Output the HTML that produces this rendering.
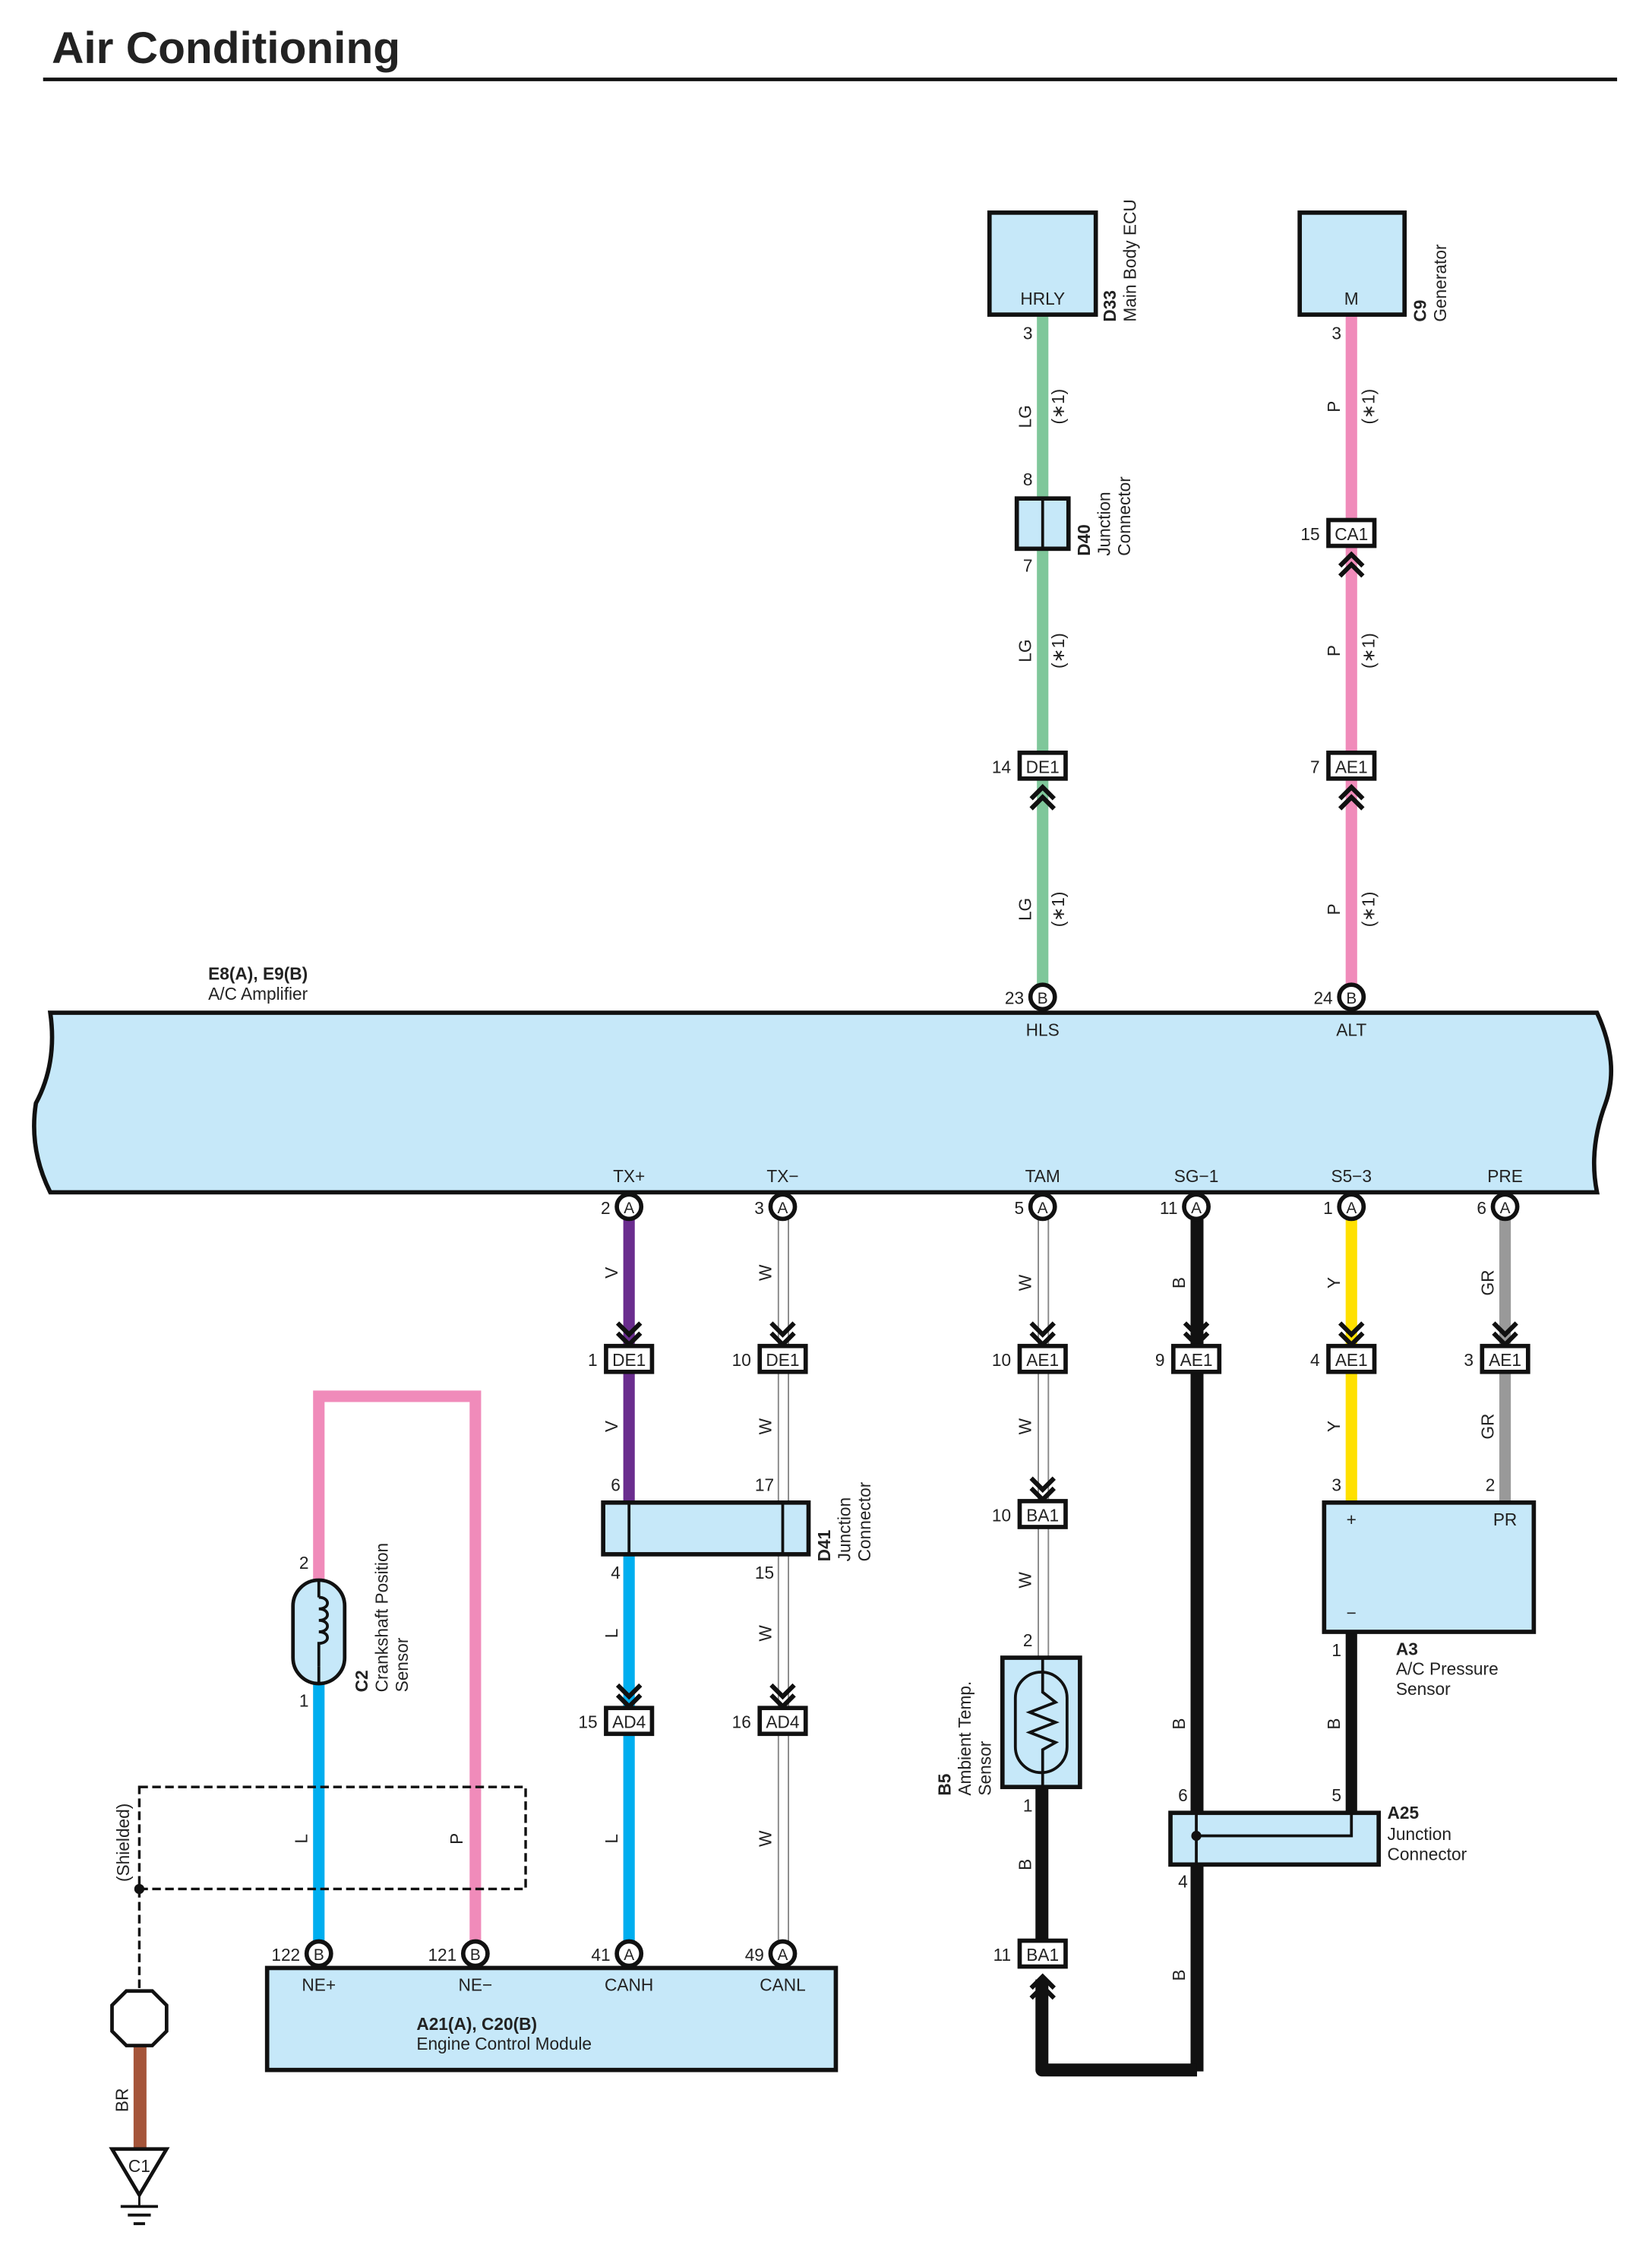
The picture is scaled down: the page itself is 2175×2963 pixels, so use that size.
<!DOCTYPE html>
<html><head><meta charset="utf-8"><style>
html,body{margin:0;padding:0;background:#fff}
svg{display:block}
text{font-family:"Liberation Sans",sans-serif;fill:#222}
.s{font-size:12px}
.b{font-weight:bold}
.m{text-anchor:middle}
.e{text-anchor:end}
</style></head><body>
<svg width="2175" height="2963" viewBox="0 0 1150.3 1567" xmlns="http://www.w3.org/2000/svg">
<defs>
<g id="cd"><polyline points="-8,-9 0,-1 8,-9" fill="none" stroke="#111" stroke-width="3.2"/><polyline points="-8,-2 0,6 8,-2" fill="none" stroke="#111" stroke-width="3.2"/></g>
<g id="cu"><polyline points="-8,9 0,1 8,9" fill="none" stroke="#111" stroke-width="3.2"/><polyline points="-8,2 0,-6 8,2" fill="none" stroke="#111" stroke-width="3.2"/></g>
</defs>
<text x="36" y="44" class="b" style="font-size:31px">Air Conditioning</text>
<rect x="30" y="54" width="1096" height="2.5" fill="#111"/>

<!-- top wires -->
<rect x="722" y="219" width="8" height="476" fill="#7fc79a"/>
<rect x="937" y="219" width="8" height="476" fill="#f08bba"/>

<!-- D33 / C9 -->
<rect x="689" y="148" width="74" height="71" fill="#c6e8f9" stroke="#111" stroke-width="3"/>
<text x="726" y="212" class="s m">HRLY</text>
<rect x="905" y="148" width="73" height="71" fill="#c6e8f9" stroke="#111" stroke-width="3"/>
<text x="941" y="212" class="s m">M</text>
<text transform="translate(777,224) rotate(-90)" class="s b">D33</text>
<text transform="translate(791,224) rotate(-90)" class="s">Main Body ECU</text>
<text transform="translate(993,224) rotate(-90)" class="s b">C9</text>
<text transform="translate(1007,224) rotate(-90)" class="s">Generator</text>
<text x="719" y="236" class="s e">3</text>
<text x="934" y="236" class="s e">3</text>

<!-- wire labels top -->
<g class="s">
<text transform="translate(718,290) rotate(-90)" class="m">LG</text>
<text transform="translate(741,283) rotate(-90)" class="m">(∗1)</text>
<text transform="translate(718,453) rotate(-90)" class="m">LG</text>
<text transform="translate(741,453) rotate(-90)" class="m">(∗1)</text>
<text transform="translate(718,633) rotate(-90)" class="m">LG</text>
<text transform="translate(741,633) rotate(-90)" class="m">(∗1)</text>
<text transform="translate(933,283) rotate(-90)" class="m">P</text>
<text transform="translate(957,283) rotate(-90)" class="m">(∗1)</text>
<text transform="translate(933,453) rotate(-90)" class="m">P</text>
<text transform="translate(957,453) rotate(-90)" class="m">(∗1)</text>
<text transform="translate(933,633) rotate(-90)" class="m">P</text>
<text transform="translate(957,633) rotate(-90)" class="m">(∗1)</text>
</g>

<!-- D40 -->
<rect x="708" y="347" width="36" height="35" fill="#c6e8f9" stroke="#111" stroke-width="3"/>
<line x1="726" y1="347" x2="726" y2="382" stroke="#111" stroke-width="2"/>
<text x="719" y="338" class="s e">8</text>
<text x="719" y="398" class="s e">7</text>
<text transform="translate(759,387) rotate(-90)" class="s b">D40</text>
<text transform="translate(773,387) rotate(-90)" class="s">Junction</text>
<text transform="translate(787,387) rotate(-90)" class="s">Connector</text>

<!-- CA1 -->
<rect x="925" y="362" width="32" height="18" fill="#fff" stroke="#111" stroke-width="3"/>
<text x="941" y="376" class="s m">CA1</text>
<text x="919" y="376" class="s e">15</text>
<use href="#cu" x="941" y="392"/>

<!-- DE1 / AE1 top -->
<rect x="710" y="524" width="32" height="18" fill="#fff" stroke="#111" stroke-width="3"/>
<text x="726" y="538" class="s m">DE1</text>
<text x="704" y="538" class="s e">14</text>
<use href="#cu" x="726" y="554"/>
<rect x="925" y="524" width="32" height="18" fill="#fff" stroke="#111" stroke-width="3"/>
<text x="941" y="538" class="s m">AE1</text>
<text x="919" y="538" class="s e">7</text>
<use href="#cu" x="941" y="554"/>

<!-- amplifier -->
<path d="M35,705 L1112,705 Q1128,740 1118,768 Q1106,800 1112,830 L35,830 Q20,800 25,768 Q40,740 35,705 Z" fill="#c6e8f9" stroke="#111" stroke-width="3"/>
<text x="145" y="682" class="s b">E8(A), E9(B)</text>
<text x="145" y="696" class="s">A/C Amplifier</text>
<text x="726" y="721" class="s m">HLS</text>
<text x="941" y="721" class="s m">ALT</text>
<circle cx="726" cy="694" r="8.5" fill="#fff" stroke="#111" stroke-width="3"/><text x="726" y="698.5" class="s m" style="font-size:11px">B</text>
<circle cx="941" cy="694" r="8.5" fill="#fff" stroke="#111" stroke-width="3"/><text x="941" y="698.5" class="s m" style="font-size:11px">B</text>
<text x="713" y="699" class="s e">23</text>
<text x="928" y="699" class="s e">24</text>
<g class="s m">
<text x="438" y="823">TX+</text><text x="545" y="823">TX−</text><text x="726" y="823">TAM</text>
<text x="833" y="823">SG−1</text><text x="941" y="823">S5−3</text><text x="1048" y="823">PRE</text>
</g>

<!-- lower wires -->
<rect x="434" y="848" width="8" height="198" fill="#6a2d8e"/>
<rect x="434" y="1082" width="8" height="278" fill="#00aeef"/>
<rect x="542" y="848" width="7" height="512" fill="#fff" stroke="#888" stroke-width="1"/>
<rect x="723" y="848" width="7" height="306" fill="#fff" stroke="#888" stroke-width="1"/>
<rect x="829" y="848" width="9" height="594" fill="#111"/>
<rect x="937" y="848" width="8" height="198" fill="#ffe000"/>
<rect x="1044" y="848" width="8" height="198" fill="#999"/>
<rect x="937" y="1136" width="8" height="126" fill="#111"/>
<rect x="721" y="1244" width="9" height="116" fill="#111"/>
<path d="M725.5,1378 L725.5,1441 L833.5,1441" fill="none" stroke="#111" stroke-width="9" stroke-linejoin="round"/>

<!-- pin circles bottom of amp -->
<g>
<circle cx="438" cy="840" r="8.5" fill="#fff" stroke="#111" stroke-width="3"/><text x="438" y="844.5" class="s m" style="font-size:11px">A</text><text x="425" y="845" class="s e">2</text>
<circle cx="545" cy="840" r="8.5" fill="#fff" stroke="#111" stroke-width="3"/><text x="545" y="844.5" class="s m" style="font-size:11px">A</text><text x="532" y="845" class="s e">3</text>
<circle cx="726" cy="840" r="8.5" fill="#fff" stroke="#111" stroke-width="3"/><text x="726" y="844.5" class="s m" style="font-size:11px">A</text><text x="713" y="845" class="s e">5</text>
<circle cx="833" cy="840" r="8.5" fill="#fff" stroke="#111" stroke-width="3"/><text x="833" y="844.5" class="s m" style="font-size:11px">A</text><text x="820" y="845" class="s e">11</text>
<circle cx="941" cy="840" r="8.5" fill="#fff" stroke="#111" stroke-width="3"/><text x="941" y="844.5" class="s m" style="font-size:11px">A</text><text x="928" y="845" class="s e">1</text>
<circle cx="1048" cy="840" r="8.5" fill="#fff" stroke="#111" stroke-width="3"/><text x="1048" y="844.5" class="s m" style="font-size:11px">A</text><text x="1035" y="845" class="s e">6</text>
</g>

<!-- row connectors at 946 -->
<g>
<use href="#cd" x="438" y="930"/><rect x="422" y="937" width="32" height="18" fill="#fff" stroke="#111" stroke-width="3"/><text x="438" y="951" class="s m">DE1</text><text x="416" y="951" class="s e">1</text>
<use href="#cd" x="545" y="930"/><rect x="529" y="937" width="32" height="18" fill="#fff" stroke="#111" stroke-width="3"/><text x="545" y="951" class="s m">DE1</text><text x="523" y="951" class="s e">10</text>
<use href="#cd" x="726" y="930"/><rect x="710" y="937" width="32" height="18" fill="#fff" stroke="#111" stroke-width="3"/><text x="726" y="951" class="s m">AE1</text><text x="704" y="951" class="s e">10</text>
<use href="#cd" x="833" y="930"/><rect x="817" y="937" width="32" height="18" fill="#fff" stroke="#111" stroke-width="3"/><text x="833" y="951" class="s m">AE1</text><text x="811" y="951" class="s e">9</text>
<use href="#cd" x="941" y="930"/><rect x="925" y="937" width="32" height="18" fill="#fff" stroke="#111" stroke-width="3"/><text x="941" y="951" class="s m">AE1</text><text x="919" y="951" class="s e">4</text>
<use href="#cd" x="1048" y="930"/><rect x="1032" y="937" width="32" height="18" fill="#fff" stroke="#111" stroke-width="3"/><text x="1048" y="951" class="s m">AE1</text><text x="1026" y="951" class="s e">3</text>
<use href="#cd" x="726" y="1038"/><rect x="710" y="1045" width="32" height="18" fill="#fff" stroke="#111" stroke-width="3"/><text x="726" y="1059" class="s m">BA1</text><text x="704" y="1059" class="s e">10</text>
<use href="#cd" x="438" y="1182"/><rect x="422" y="1189" width="32" height="18" fill="#fff" stroke="#111" stroke-width="3"/><text x="438" y="1203" class="s m">AD4</text><text x="416" y="1203" class="s e">15</text>
<use href="#cd" x="545" y="1182"/><rect x="529" y="1189" width="32" height="18" fill="#fff" stroke="#111" stroke-width="3"/><text x="545" y="1203" class="s m">AD4</text><text x="523" y="1203" class="s e">16</text>
<rect x="710" y="1351" width="32" height="18" fill="#fff" stroke="#111" stroke-width="3"/><text x="726" y="1365" class="s m">BA1</text><text x="704" y="1365" class="s e">11</text>
<use href="#cu" x="726" y="1382"/>
</g>

<!-- wire labels lower -->
<g class="s m">
<text transform="translate(430,886) rotate(-90)">V</text>
<text transform="translate(537,886) rotate(-90)">W</text>
<text transform="translate(718,893) rotate(-90)">W</text>
<text transform="translate(825,893) rotate(-90)">B</text>
<text transform="translate(933,893) rotate(-90)">Y</text>
<text transform="translate(1040,893) rotate(-90)">GR</text>
<text transform="translate(430,993) rotate(-90)">V</text>
<text transform="translate(537,993) rotate(-90)">W</text>
<text transform="translate(718,993) rotate(-90)">W</text>
<text transform="translate(933,993) rotate(-90)">Y</text>
<text transform="translate(1040,993) rotate(-90)">GR</text>
<text transform="translate(718,1100) rotate(-90)">W</text>
<text transform="translate(430,1137) rotate(-90)">L</text>
<text transform="translate(537,1137) rotate(-90)">W</text>
<text transform="translate(825,1200) rotate(-90)">B</text>
<text transform="translate(933,1200) rotate(-90)">B</text>
<text transform="translate(430,1280) rotate(-90)">L</text>
<text transform="translate(537,1280) rotate(-90)">W</text>
<text transform="translate(718,1298) rotate(-90)">B</text>
<text transform="translate(825,1375) rotate(-90)">B</text>
<text transform="translate(214,1280) rotate(-90)">L</text>
<text transform="translate(322,1280) rotate(-90)">P</text>
<text transform="translate(89,1462) rotate(-90)">BR</text>
</g>

<!-- D41 -->
<rect x="420" y="1046" width="143" height="36" fill="#c6e8f9" stroke="#111" stroke-width="3"/>
<line x1="438" y1="1046" x2="438" y2="1082" stroke="#111" stroke-width="2"/>
<line x1="545" y1="1046" x2="545" y2="1082" stroke="#111" stroke-width="2"/>
<text x="432" y="1038" class="s e">6</text><text x="539" y="1038" class="s e">17</text>
<text x="432" y="1099" class="s e">4</text><text x="539" y="1099" class="s e">15</text>
<text transform="translate(578,1087) rotate(-90)" class="s b">D41</text>
<text transform="translate(592,1087) rotate(-90)" class="s">Junction</text>
<text transform="translate(606,1087) rotate(-90)" class="s">Connector</text>

<!-- A3 -->
<rect x="922" y="1046" width="146" height="90" fill="#c6e8f9" stroke="#111" stroke-width="3"/>
<text x="941" y="1062" class="s m">+</text><text x="1048" y="1062" class="s m">PR</text>
<text x="941" y="1127" class="s m">−</text>
<text x="934" y="1038" class="s e">3</text><text x="1041" y="1038" class="s e">2</text>
<text x="934" y="1153" class="s e">1</text>
<text x="972" y="1152" class="s b">A3</text>
<text x="972" y="1166" class="s">A/C Pressure</text>
<text x="972" y="1180" class="s">Sensor</text>

<!-- B5 -->
<rect x="698" y="1154" width="54" height="90" fill="#c6e8f9" stroke="#111" stroke-width="3"/>
<rect x="707" y="1164" width="36" height="70" rx="18" fill="none" stroke="#111" stroke-width="2"/>
<polyline points="726,1154 726,1178 735,1185 717,1192 735,1199 717,1206 735,1213 726,1218 726,1244" fill="none" stroke="#111" stroke-width="2"/>
<text x="719" y="1146" class="s e">2</text><text x="719" y="1261" class="s e">1</text>
<text transform="translate(662,1250) rotate(-90)" class="s b">B5</text>
<text transform="translate(676,1250) rotate(-90)" class="s">Ambient Temp.</text>
<text transform="translate(690,1250) rotate(-90)" class="s">Sensor</text>

<!-- A25 -->
<rect x="815" y="1262" width="145" height="36" fill="#c6e8f9" stroke="#111" stroke-width="3"/>
<polyline points="833,1262 833,1298" stroke="#111" stroke-width="2" fill="none"/>
<polyline points="833,1278 941,1278 941,1262" stroke="#111" stroke-width="2" fill="none"/>
<circle cx="833" cy="1278" r="3.5" fill="#111"/>
<text x="827" y="1254" class="s e">6</text><text x="934" y="1254" class="s e">5</text>
<text x="827" y="1314" class="s e">4</text>
<text x="966" y="1266" class="s b">A25</text>
<text x="966" y="1281" class="s">Junction</text>
<text x="966" y="1295" class="s">Connector</text>

<!-- C2 crankshaft -->
<path d="M222,1100 L222,972 L331,972 L331,1360" fill="none" stroke="#f08bba" stroke-width="8" stroke-linejoin="miter"/>
<rect x="218" y="1172" width="8" height="188" fill="#00aeef"/>
<rect x="204" y="1100" width="36" height="72" rx="18" fill="#c6e8f9" stroke="#111" stroke-width="2.5"/>
<line x1="222" y1="1100" x2="222" y2="1112" stroke="#111" stroke-width="2"/>
<line x1="222" y1="1160" x2="222" y2="1172" stroke="#111" stroke-width="2"/>
<path d="M222,1112 c8,0 8,8 0,8 c8,0 8,8 0,8 c8,0 8,8 0,8 c8,0 8,8 0,8 l0,16" fill="none" stroke="#111" stroke-width="2"/>
<text x="215" y="1092" class="s e">2</text><text x="215" y="1188" class="s e">1</text>
<text transform="translate(256,1178) rotate(-90)" class="s b">C2</text>
<text transform="translate(270,1178) rotate(-90)" class="s">Crankshaft Position</text>
<text transform="translate(284,1178) rotate(-90)" class="s">Sensor</text>

<!-- shield -->
<rect x="97" y="1244" width="269" height="71" fill="none" stroke="#111" stroke-width="1.8" stroke-dasharray="6,3"/>
<line x1="97" y1="1315" x2="97" y2="1386" stroke="#111" stroke-width="1.8" stroke-dasharray="6,3"/>
<circle cx="97" cy="1315" r="3.5" fill="#111"/>
<text transform="translate(90,1310) rotate(-90)" class="s">(Shielded)</text>
<rect x="93" y="1424" width="9" height="73" fill="#a5553a"/>
<polygon points="88,1386 106,1386 116,1396 116,1414 106,1424 88,1424 78,1414 78,1396" fill="#fff" stroke="#111" stroke-width="2.5"/>
<polygon points="78,1496 116,1496 97,1528" fill="#fff" stroke="#111" stroke-width="2.5"/>
<text x="97" y="1512" class="s m">C1</text>
<line x1="97" y1="1528" x2="97" y2="1536" stroke="#111" stroke-width="1.5"/>
<line x1="84" y1="1536" x2="110" y2="1536" stroke="#111" stroke-width="2"/>
<line x1="89" y1="1542" x2="105" y2="1542" stroke="#111" stroke-width="2"/>
<line x1="93" y1="1548" x2="101" y2="1548" stroke="#111" stroke-width="2"/>

<!-- ECM -->
<rect x="186" y="1370" width="396" height="71" fill="#c6e8f9" stroke="#111" stroke-width="3"/>
<g class="s m"><text x="222" y="1386">NE+</text><text x="331" y="1386">NE−</text><text x="438" y="1386">CANH</text><text x="545" y="1386">CANL</text></g>
<text x="290" y="1413" class="s b">A21(A), C20(B)</text>
<text x="290" y="1427" class="s">Engine Control Module</text>
<circle cx="222" cy="1360" r="8.5" fill="#fff" stroke="#111" stroke-width="3"/><text x="222" y="1364.5" class="s m" style="font-size:11px">B</text><text x="209" y="1365" class="s e">122</text>
<circle cx="331" cy="1360" r="8.5" fill="#fff" stroke="#111" stroke-width="3"/><text x="331" y="1364.5" class="s m" style="font-size:11px">B</text><text x="318" y="1365" class="s e">121</text>
<circle cx="438" cy="1360" r="8.5" fill="#fff" stroke="#111" stroke-width="3"/><text x="438" y="1364.5" class="s m" style="font-size:11px">A</text><text x="425" y="1365" class="s e">41</text>
<circle cx="545" cy="1360" r="8.5" fill="#fff" stroke="#111" stroke-width="3"/><text x="545" y="1364.5" class="s m" style="font-size:11px">A</text><text x="532" y="1365" class="s e">49</text>
</svg>
</body></html>
